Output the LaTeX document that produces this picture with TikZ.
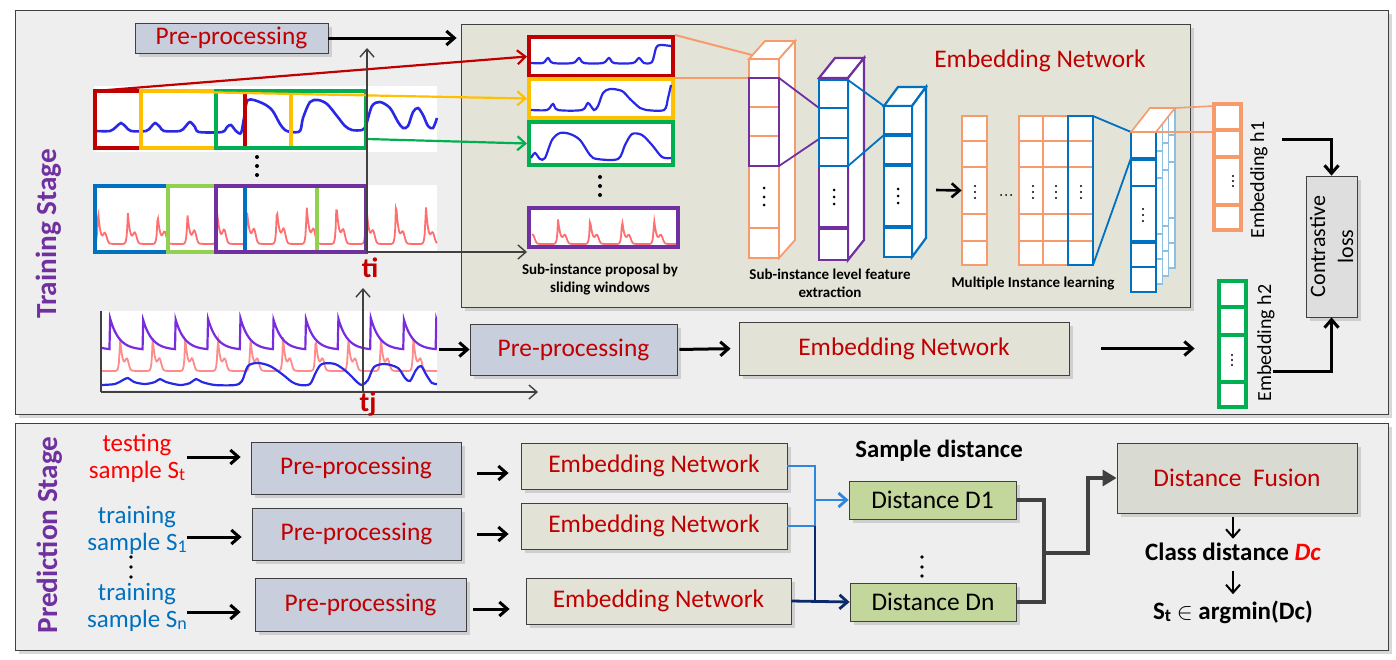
\documentclass[tikz,border=0pt]{standalone}
\usepackage{fontspec}
\setmainfont{Carlito}
\usetikzlibrary{arrows.meta,shadows,fit}

\definecolor{wred}{HTML}{C00000}
\definecolor{wyellow}{HTML}{FFC000}
\definecolor{wgreen}{HTML}{00B050}
\definecolor{wblue}{HTML}{0070C0}
\definecolor{wlgreen}{HTML}{92D050}
\definecolor{wpurple}{HTML}{7030A0}
\definecolor{worange}{HTML}{F89B6C}
\definecolor{sigblue}{HTML}{2828E6}
\definecolor{sigred}{HTML}{FF6F6F}
\definecolor{sigpurple}{HTML}{7A2BE0}
\definecolor{prepfill}{HTML}{C8CEDC}
\definecolor{embfill}{HTML}{E2E2D6}
\definecolor{panelfill}{HTML}{E3E3D8}
\definecolor{framefill}{HTML}{EEEEEE}
\definecolor{distfill}{HTML}{C3D69B}
\definecolor{fusefill}{HTML}{D9DAD2}
\definecolor{lossfill}{HTML}{DEDEDE}
\definecolor{lblue}{HTML}{2E86DE}
\definecolor{dnavy}{HTML}{0B2A6B}
\definecolor{dgray}{HTML}{404040}

\newcommand{\smallsub}[1]{\raisebox{-0.2ex}{\fontsize{9}{9}\selectfont #1}}

\tikzset{
	>={Straight Barb[length=4pt,width=7pt]},
	boxshadow/.style={drop shadow={shadow xshift=2pt,shadow yshift=-2pt,fill=black!30}},
	prepbox/.style={draw=black!75,fill=prepfill,boxshadow,inner sep=0pt},
	embbox/.style={prepbox,fill=embfill},
	distbox/.style={prepbox,fill=distfill},
	boxtext/.style={text=wred,font=\fontsize{12.7}{15}\selectfont},
	bigarrow/.style={->,line width=1.5pt},
	axisarrow/.style={->,black!75,line width=0.7pt},
	captext/.style={font=\bfseries\fontsize{7.5}{9}\selectfont,align=center},
}

\begin{document}
\begin{tikzpicture}[x=0.5pt,y=-0.5pt,
	declare function={spk(\t)=exp(-abs(\t-6)/(0.8+1.8*(\t>6)))+0.3*exp(-(\t-13)*(\t-13)/6);},
	every node/.style={font=\fontsize{12.5}{13.5}\selectfont}]
	\useasboundingbox (0,0) rectangle (1396,659);
	\draw[black!75,fill=framefill,boxshadow] (15,10) rectangle (1388,414);
	\draw[black!75,fill=framefill,boxshadow] (15,423) rectangle (1388,650);
	\node[rotate=90,text=wpurple,font=\bfseries\fontsize{14.6}{16}\selectfont] (train) at (49,234) {Training Stage};
	\node[rotate=90,text=wpurple,font=\bfseries\fontsize{14.6}{16}\selectfont] (pred) at (50,535) {Prediction Stage};

	\node[fit={(461,24) (1190,307)},draw=black!75,fill=panelfill,boxshadow,inner sep=0pt] (panel) {};
	\node[boxtext] (embtitle) at (1040,61) {Embedding Network};
	\node[prepbox,fit={(135,23) (328,53)}] (pre0) {};
	\node[boxtext] at (pre0.center) {Pre-processing};
	\draw[bigarrow,shorten >=2pt] (pre0.east) -- (pre0.east -| panel.west);

	\fill[white] (94,86) rectangle (437,152);
	\draw[sigblue,line width=1.3pt] plot[smooth,tension=0.5] coordinates {(96,131) (110,131) (116,127) (121,123) (126,127) (131,131) (146,131) (151,127) (155,123) (160,127) (164,131) (180,131) (185,127) (190,122) (195,127) (199,132) (222,132) (227,127) (231,125) (236,131) (241,133) (244,118) (248,100) (262,103) (272,110) (280,124) (285,130) (291,132) (300,131) (303,118) (310,102) (318,100) (327,104) (337,116) (345,126) (352,130) (362,130) (366,125) (372,106) (380,102) (390,108) (398,122) (403,128) (408,126) (413,112) (418,108) (423,115) (428,126) (433,128) (437,118)};
	\draw[wred,line width=1.6pt] (95,91) rectangle (245,148);
	\draw[wyellow,line width=1.6pt] (141,91) rectangle (291,148);
	\draw[wgreen,line width=1.6pt] (216,91) rectangle (366,148);
	\foreach \y in {157,166,175} \fill (257,\y) circle (2);

	\fill[white] (94,185) rectangle (437,252);
	\draw[sigred,line width=0.9pt] plot[domain=95:437,samples=500] (\x,{244-(36+6*sin(\x*13))*spk(mod(\x+206,29.8))});
	\draw[wblue,line width=1.6pt] (95,186) rectangle (245,252);
	\draw[wlgreen,line width=1.6pt] (168,186) rectangle (317,252);
	\draw[wpurple,line width=1.6pt] (216,186) rectangle (366,252);

	\node[fit={(529,37) (673,76)},draw=wred,line width=2pt,fill=white,inner sep=0pt] (subR) {};
	\node[fit={(529,79) (673,118)},draw=wyellow,line width=2pt,fill=white,inner sep=0pt] (subY) {};
	\node[fit={(529,122) (673,165)},draw=wgreen,line width=2pt,fill=white,inner sep=0pt] (subG) {};
	\node[fit={(529,208) (678,247)},draw=wpurple,line width=2pt,fill=white,inner sep=0pt] (subP) {};
	\draw[sigblue,line width=1.1pt] plot[smooth,tension=0.5] coordinates {(531,63) (543,63) (548,58) (553,63) (573,63) (579,58) (584,63) (603,63) (609,58) (614,63) (633,63) (639,58) (644,63) (652,62) (656,48) (660,45) (671,46)};
	\draw[sigblue,line width=1.1pt] plot[smooth,tension=0.5] coordinates {(531,110) (547,110) (553,104) (558,110) (582,110) (588,103) (594,110) (598,106) (603,93) (610,89) (622,91) (630,99) (640,108) (646,110) (664,110) (668,98) (671,85)};
	\draw[sigblue,line width=1.1pt] plot[smooth,tension=0.5] coordinates {(531,158) (535,153) (540,159) (545,158) (552,140) (560,133) (570,134) (580,140) (590,155) (597,159) (618,159) (625,145) (632,134) (642,135) (652,145) (662,157) (671,158)};
	\draw[sigred,line width=0.9pt] plot[domain=532:676,samples=200] (\x,{244-25*spk(mod(\x-232,32))});
	\foreach \y in {177,186,195} \fill (600,\y) circle (2);
	\node[captext] (cap1) at (600,280) {Sub-instance proposal by\\sliding windows};

	\coordinate (winR) at (95,91);
	\coordinate (winY) at (141,91);
	\coordinate (winG) at (367,139);
	\coordinate (tiax) at (367,252);
	\draw[->,wred,line width=1.1pt] (winR) -- (subR.west);
	\draw[->,wyellow,line width=1.1pt] (winY) -- (subY.west);
	\draw[->,wgreen,line width=1.1pt] (winG) -- (subG.west);
	\draw[axisarrow] (tiax) -- (tiax -| subP.west);
	\draw[axisarrow] (tiax) -- (367,48);
	\node[text=wred,font=\bfseries\fontsize{14}{14}\selectfont] (ti) at (370,268) {ti};

	\draw[worange,line width=1pt] (subR.north east) -- (752,55);
	\draw[worange,line width=1pt] (subR.south east) -- (749,78);
	\begin{scope}[worange,line width=0.9pt]
		\filldraw[fill=white] (749,59) -- (765,41) -- (795,41) -- (779,59) -- cycle;
		\filldraw[fill=white] (779,59) -- (795,41) -- (795,240) -- (779,258) -- cycle;
		\foreach \a/\b in {59/78,78/107,107/136,136/166,166/228,228/258}
			\filldraw[fill=white] (749,\a) rectangle (779,\b);
	\end{scope}
	\draw[wpurple,line width=1.2pt] (749,78) rectangle (779,166);
	\foreach \y in {188,197,205} \fill (764,\y) circle (1.5);
	\draw[wpurple,line width=0.9pt] (779,78) -- (819,108) (779,166) -- (819,139);

	\begin{scope}[wpurple,line width=1.1pt]
		\filldraw[fill=white] (819,78) -- (835,58) -- (864,58) -- (848,78) -- cycle;
		\filldraw[fill=white] (848,78) -- (864,58) -- (864,240) -- (848,260) -- cycle;
		\foreach \a/\b in {78/166,166/228,228/260}
			\filldraw[fill=white] (819,\a) rectangle (848,\b);
	\end{scope}
	\draw[wpurple,line width=2pt] (819,228) -- (848,228);
	\foreach \a/\b in {80/108,108/138,138/166}
		\draw[wblue,line width=1.2pt] (819,\a) rectangle (848,\b);
	\foreach \y in {190,197,204} \fill (834,\y) circle (1.5);
	\draw[wblue,line width=0.9pt] (848,80) -- (884,106) (848,166) -- (884,135);

	\begin{scope}[wblue,line width=1.1pt]
		\filldraw[fill=white] (884,106) -- (898,87) -- (926,87) -- (912,106) -- cycle;
		\filldraw[fill=white] (912,106) -- (926,87) -- (926,238) -- (912,257) -- cycle;
		\foreach \a/\b in {106/135,135/165,165/227,227/257}
			\filldraw[fill=white] (884,\a) rectangle (912,\b);
	\end{scope}
	\draw[wblue,line width=1.8pt] (884,135) -- (912,135) (884,165) -- (912,165) (884,227) -- (912,227);
	\foreach \y in {189,196,203} \fill (898,\y) circle (1.5);
	\node[captext] (cap2) at (830,283) {Sub-instance level feature\\extraction};

	\foreach \a/\b in {116/141,141/167,167/214,214/241,241/265}
		\filldraw[worange,fill=white,line width=0.8pt] (962,\a) rectangle (987,\b);
	\node[fit={(962,116) (987,265)},inner sep=0pt] (mil1) {};
	\draw[->,line width=1.3pt] (936,190) -- (mil1.west);
	\foreach \y in {186,192,198} \fill (975,\y) circle (1.2);
	\foreach \x in {1001,1006,1011} \fill (\x,195) circle (1);
	\foreach \c in {1019,1043,1068}
		\foreach \a/\b in {116/141,141/167,167/214,214/241,241/265}
			\filldraw[worange,fill=white,line width=0.8pt] (\c,\a) rectangle (\c+25,\b);
	\draw[wblue,line width=1.4pt] (1068,116) rectangle (1093,265);
	\foreach \x in {1033,1056,1081}
		\foreach \y in {186,192,198} \fill (\x,\y) circle (1.2);
	\node[captext] (cap3) at (1033,283) {Multiple Instance learning};
	\draw[wblue,line width=0.9pt] (1093,116) -- (1131,132) (1093,265) -- (1131,158);

	\foreach \k in {3,2,1}
		\foreach \a/\b in {132/159,159/186,186/242,242/267,267/292}
			\filldraw[wblue!45,fill=white,line width=0.8pt,shift={(6.3*\k,-8*\k)}] (1131,\a) rectangle (1156,\b);
	\foreach \a/\b in {132/159,159/186,186/242,242/267,267/292}
		\filldraw[wblue,fill=white,line width=1.2pt] (1131,\a) rectangle (1156,\b);
	\draw[wblue,line width=2pt] (1131,159) -- (1156,159) (1131,242) -- (1156,242);
	\foreach \y in {209,215,221} \fill (1143,\y) circle (1.2);
	\filldraw[worange,fill=white,line width=0.8pt] (1131,132) -- (1150,108) -- (1175,108) -- (1156,132) -- cycle;
	\draw[worange,line width=0.8pt] (1175,108) -- (1214,106) (1156,132) -- (1214,132);

	\foreach \a/\b in {104/130,130/157,157/205,205/230}
		\filldraw[worange,fill=white,line width=2pt] (1214,\a) rectangle (1241,\b);
	\node[fit={(1214,104) (1241,230)},inner sep=0pt] (h1) {};
	\foreach \y in {176,181,186} \fill (1233,\y) circle (1.1);
	\node[rotate=90,font=\fontsize{10}{12}\selectfont] (h1lab) at (1259,180) {Embedding h1};
	\foreach \a/\b in {281/307,307/335,335/382,382/407}
		\filldraw[wgreen,fill=white,line width=2pt] (1219,\a) rectangle (1246,\b);
	\node[fit={(1219,281) (1246,407)},inner sep=0pt] (h2) {};
	\foreach \y in {355,360,365} \fill (1232,\y) circle (1.1);
	\node[rotate=90,font=\fontsize{10}{12}\selectfont] (h2lab) at (1266,343) {Embedding h2};

	\node[fit={(1306,176) (1357,317)},draw=black!75,fill=lossfill,boxshadow,inner sep=0pt] (loss) {};
	\node[rotate=90,align=center,font=\fontsize{11}{14}\selectfont] (losslab) at (loss.center) {Contrastive\\loss};
	\coordinate (h1out) at (1282,139);
	\coordinate (h2out) at (1273,371);
	\draw[bigarrow] (h1out) -| (loss.north);
	\draw[bigarrow] (h2out) -| (loss.south);

	\fill[white] (100,311) rectangle (437,390);
	\begin{scope}
		\clip (100,311) rectangle (437,390);
		\draw[sigred!80,line width=0.9pt] plot[domain=100:437,samples=500] (\x,{371-34*spk(mod(\x+212,32.6))});
		\draw[sigpurple,line width=1.1pt] plot[domain=100:437,samples=500] (\x,{350-32*exp(-mod(\x+216,32.6)/9)});
		\draw[sigblue,line width=1.1pt] plot[smooth,tension=0.5] coordinates {(101,385) (115,384) (123,380) (128,378) (134,382) (145,384) (155,382) (160,379) (166,382) (180,385) (190,383) (196,379) (202,382) (215,385) (235,385) (242,381) (248,366) (258,363) (270,366) (282,374) (292,382) (300,385) (310,384) (316,372) (322,364) (335,364) (347,372) (357,382) (362,385) (368,380) (374,367) (385,364) (398,368) (405,378) (410,381) (416,370) (421,366) (427,376) (432,383) (437,384)};
	\end{scope}
	\coordinate (org) at (101,392);
	\coordinate (tjax) at (363,392);
	\draw[black!75,line width=0.7pt] (101,311) -- (org);
	\draw[axisarrow] (org) -- (538,392);
	\draw[axisarrow] (tjax) -- (363,288);
	\node[text=wred,font=\bfseries\fontsize{14}{14}\selectfont] (tj) at (368,404) {tj};

	\node[prepbox,fit={(470,324) (677,375)}] (pre1) {};
	\node[boxtext] at (pre1.center) {Pre-processing};
	\node[embbox,fit={(739,322) (1069,375)}] (emb0) {};
	\node[boxtext] at (emb0.center) {Embedding Network};
	\coordinate (sig) at (439,349.5);
	\draw[bigarrow] (sig) -- (pre1.west);
	\draw[bigarrow,shorten <=1pt,shorten >=4pt] (pre1.east) -- (emb0.west);
	\draw[bigarrow,shorten <=16pt,shorten >=12pt] (emb0.east) -- (emb0.east -| h2.west);

	\node[text=red,align=center] (test) at (137,458) {testing\\sample S\smallsub{t}};
	\node[text=wblue,align=center] (tr1) at (137,530) {training\\sample S\smallsub{1}};
	\foreach \y in {557,567,577} \fill (131,\y) circle (1.8);
	\node[text=wblue,align=center] (trn) at (137,607) {training\\sample S\smallsub{n}};

	\node[prepbox,fit={(251,442) (461,494)}] (pp1) {};
	\node[prepbox,fit={(252,508) (461,560)}] (pp2) {};
	\node[prepbox,fit={(255,578) (466,631)}] (pp3) {};
	\node[embbox,fit={(521,443) (787,489)}] (emb1) {};
	\node[embbox,fit={(521,503) (787,549)}] (emb2) {};
	\node[embbox,fit={(526,578) (791,624)}] (emb3) {};
	\foreach \n in {pp1,pp2,pp3}
		\node[boxtext] at (\n.center) {Pre-processing};
	\foreach \n in {emb1,emb2,emb3}
		\node[boxtext] at (\n.center) {Embedding Network};
	\coordinate (a1) at (187,457);
	\coordinate (a2) at (187,537);
	\coordinate (a3) at (187,612);
	\draw[bigarrow,shorten >=5pt] (a1) -- (a1 -| pp1.west);
	\draw[bigarrow,shorten >=5pt] (a2) -- (a2 -| pp2.west);
	\draw[bigarrow,shorten >=7pt] (a3) -- (a3 -| pp3.west);
	\coordinate (b1) at (477,473);
	\coordinate (b2) at (477,534);
	\coordinate (b3) at (473,609);
	\draw[bigarrow,shorten >=6pt] (b1) -- (b1 -| emb1.west);
	\draw[bigarrow,shorten >=6pt] (b2) -- (b2 -| emb2.west);
	\draw[bigarrow,shorten >=8pt] (b3) -- (b3 -| emb3.west);

	\node[font=\bfseries\fontsize{12.4}{14}\selectfont] (sdist) at (939,451) {Sample distance};
	\node[distbox,fit={(849,481) (1016,519)}] (dist1) {};
	\node[distbox,fit={(850,583) (1016,621)}] (distn) {};
	\node[font=\fontsize{12.7}{15}\selectfont] at (dist1.center) {Distance D1};
	\node[font=\fontsize{12.7}{15}\selectfont] at (distn.center) {Distance Dn};
	\foreach \y in {557,567,576} \fill (922,\y) circle (1.8);
	\coordinate (vx) at (815,0);
	\draw[lblue,line width=1.4pt] (emb1.east) -| (vx |- emb2.east) -- (emb2.east);
	\draw[->,lblue,line width=1.4pt] (vx |- dist1.west) -- (dist1.west);
	\draw[dnavy,line width=1.4pt] (vx |- emb2.east) -- (vx |- distn.west);
	\draw[->,dnavy,line width=1.4pt] (emb3.east) -- (distn.west);

	\node[prepbox,fill=fusefill,fit={(1117,443) (1357,513)}] (fuse) {};
	\node[boxtext] at (fuse.center) {Distance\ \ Fusion};
	\coordinate (gx) at (1044,0);
	\coordinate (gm) at (1044,553);
	\draw[dgray,line width=1.6pt] (dist1.east) -| (gx |- distn.east) -- (distn.east);
	\draw[dgray,line width=1.6pt,-{Triangle[length=7pt,width=8pt]}] (gm) -- ++(44,0) |- (fuse.west);

	\node[font=\bfseries\fontsize{12.5}{14}\selectfont,inner sep=1pt] (cls) at (1233,552) {Class distance \textcolor{red}{\textit{Dc}}};
	\node[font=\bfseries\fontsize{12.5}{14}\selectfont,inner sep=1pt] (amin) at (1233,612) {S\smallsub{t} $\in$ argmin(Dc)};
	\draw[->,line width=1pt,shorten <=2pt,shorten >=1pt] (cls.north |- fuse.south) -- (cls.north);
	\draw[->,line width=1pt,shorten <=4pt,shorten >=2pt] (cls.south) -- (amin.north);
\end{tikzpicture}
\end{document}
